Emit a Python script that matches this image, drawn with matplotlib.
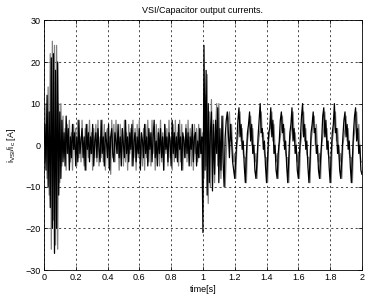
import numpy as np
import matplotlib
matplotlib.use("Agg")
import matplotlib.pyplot as plt

plt.rcParams['font.family'] = ['Liberation Sans', 'DejaVu Sans']
plt.rcParams['mathtext.default'] = 'regular'

# sample rate of the read-off points [1/s]
fs = 150.0

# VSI current (black)
vsi_start = [0, 5, -6, 12, -10, 8, -15, 21, -20, 22, -26, 18, -20, 20, -12, 8]
vsi_noise = [
    -8, 6, -4, 3, -5, 7, -2, 4, -6, 2,
    -3, 5, -1, 3, -5, 2, -4, 6, -2, 1,
    4, -3, 2, -6, 5, -1, 3, -4, 2, -2,
    5, -5, 1, 3, -3, 4, -1, -4, 6, -2,
    2, -5, 3, 1, -3, 5, -6, 2, 4, -2,
    -4, 3, 1, -2, 5, -3, 2, -5, 4, 0,
    -3, 6, -2, 2, -4, 3, -1, 5, -5, 1,
    3, -4, 2, -2, 4, -6, 3, 1, -3, 5,
    -2, 2, -5, 4, -1, 3, -4, 2, 6, -3,
    1, -5, 3, -2, 4, -3, 2, -6, 5, -1,
    2, -4, 3, 1, -5, 6, -2, 3, -3, 2,
    -4, 5, -1, 2, -6, 3, 1, -3, 4, -2,
    3, -5, 2, -1, 5, -4, 2, 3, -5, 1,
    -3, 4, -2, 2,
]
vsi_step = [-21, 24, -6, 18, -12, 10, -9, 3, 8, -11,
            5, -7, 6, -2, 9, -9, 4, -6, 7, -4,
            -10, 2, 6, 8, 3, -3, 5, 1, -4, -6]
vsi_steady = [
    -8, -3, 1, 6, 9, 2, 5, -1, 1, -5,
    -9, -2, 3, 5, 8, 1, 5, -2, 0, -6,
    -8, -4, 2, 6, 10, 3, 4, -1, 1, -5,
    -9, -3, 3, 4, 9, 2, 6, -2, 0, -6,
    -8, -2, 1, 6, 8, 3, 5, -1, 1, -5,
    -9, -3, 3, 5, 9, 1, 4, -2, 0, -6,
    -8, -2, 2, 7, 10, 2, 5, -1, 1, -5,
    -9, -4, 3, 5, 8, 3, 4, -2, 0, -6,
    -8, -3, 1, 7, 9, 2, 6, -1, 1, -5,
    -9, -2, 3, 5, 10, 3, 4, -2, 0, -6,
    -8, -3, 2, 6, 8, 2, 5, -1, 1, -5,
    -9, -3, 3, 7, 9, 1, 4, -2, 0, -6,
    -7,
]

# capacitor current (grey)
cap_start = [0, -4, 10, -8, 14, -12, 22, -25, 25, -18, 24, -24, 24, -25, 10, -9]
cap_noise = [
    10, -5, 7, -3, 4, -6, 5, -2, 6, -4,
    3, -6, 5, -1, 4, -5, 6, -3, 2, -4,
    6, -2, -5, 4, -6, 5, -3, 6, -2, 3,
    -6, 4, -3, 5, -4, 6, -5, 2, -3, 6,
    -4, 5, -6, 3, 4, -5, 2, -7, 6, -3,
    5, -4, 6, -2, 3, -6, 5, -3, 4, -5,
    6, -4, 3, -6, 5, -2, 4, -5, 6, -3,
    4, -6, 5, -3, 6, -4, 2, -5, 4, -6,
    5, -3, 6, -4, 3, -5, 6, -2, 4, -6,
    5, -3, 4, -5, 6, -4, 3, -6, 5, -2,
    4, -5, 6, -3, 2, -6, 5, -4, 6, -3,
    3, -5, 6, -4, 5, -6, 2, -3, 5, -4,
    6, -3, 4, -5, 3, -6, 5, -2, 4, -4,
    5, -3, 4, -2,
]
cap_step = [3, -8, 12, -5, 17, -14, 8, -10, 11, -3,
            6, -9, 4, 10, -5, 10, -2, -8, 3, 7,
            -5, -10, -2, 3, 6, 8, 1, 5, -1, -4]
cap_steady = [
    -2, -8, 0, 2, 4, 8, 1, 4, -2, -3,
    -3, -9, 1, 3, 5, 7, 0, 4, -1, -4,
    -2, -8, 0, 2, 4, 8, 2, 3, -2, -3,
    -3, -9, 1, 3, 6, 8, 1, 5, -1, -4,
    -2, -8, 0, 2, 4, 7, 1, 4, -2, -3,
    -3, -9, 1, 3, 5, 8, 2, 3, -1, -4,
    -2, -8, 0, 2, 4, 8, 1, 4, -2, -3,
    -3, -9, 1, 3, 6, 7, 0, 5, -1, -4,
    -2, -8, 0, 2, 4, 8, 2, 4, -2, -3,
    -3, -9, 1, 3, 5, 8, 1, 4, -1, -4,
    -2, -8, 0, 2, 4, 7, 1, 4, -2, -3,
    -3, -9, 1, 3, 6, 8, 2, 5, -1, -4,
    -4,
]

i_vsi = np.array(vsi_start + vsi_noise + vsi_step + vsi_steady, dtype=float)
i_c = np.array(cap_start + cap_noise + cap_step + cap_steady, dtype=float)
t_vsi = np.arange(len(i_vsi)) / fs
t_c = np.arange(len(i_c)) / fs

xticks = [0, 0.2, 0.4, 0.6, 0.8, 1, 1.2, 1.4, 1.6, 1.8, 2]
xticklabels = ['0', '0.2', '0.4', '0.6', '0.8', '1', '1.2', '1.4', '1.6', '1.8', '2']
yticks = [-30, -20, -10, 0, 10, 20, 30]

fig = plt.figure(figsize=(3.72, 3.0), dpi=100)
ax = fig.add_axes([0.118, 0.1, 0.855, 0.832])

ax.plot(t_c, i_c, color='#808080', lw=0.9)
ax.plot(t_vsi, i_vsi, color='black', lw=0.9)

ax.set_xlim(0, 2)
ax.set_ylim(-30, 30)
ax.set_xticks(xticks)
ax.set_xticklabels(xticklabels)
ax.set_yticks(yticks)
ax.grid(True, color='black', linestyle=(0, (3, 4)), linewidth=0.5)
ax.tick_params(direction='in', top=True, right=True, length=3, width=0.5,
               labelsize=6.5, pad=2.5)
for s in ax.spines.values():
    s.set_linewidth(0.6)

ax.set_title('VSI/Capacitor output currents.', fontsize=6.5, pad=5)
ax.set_xlabel('time[s]', fontsize=6.5, labelpad=2)
ax.set_ylabel(r'i$_{VSI}$/i$_c$ [A]', fontsize=6.5, labelpad=5)

fig.savefig('out.png', dpi=100)
